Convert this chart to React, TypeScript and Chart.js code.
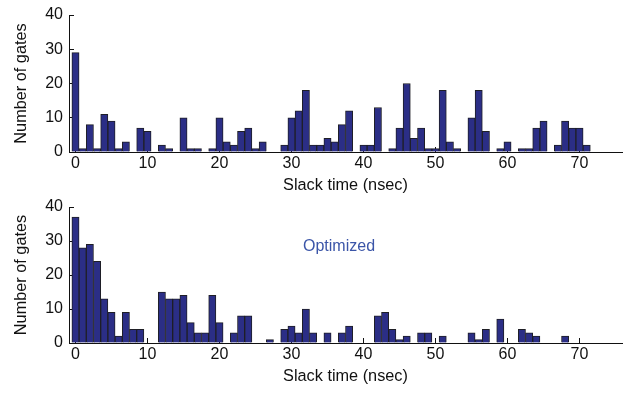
import React, { useEffect, useRef } from 'react';
import { Chart, registerables } from 'chart.js';

Chart.register(...registerables);

// ---- data ----
const slackTimes = [
  0, 1, 2, 3, 4, 5, 6, 7, 8, 9,
  10, 11, 12, 13, 14, 15, 16, 17, 18, 19,
  20, 21, 22, 23, 24, 25, 26, 27, 28, 29,
  30, 31, 32, 33, 34, 35, 36, 37, 38, 39,
  40, 41, 42, 43, 44, 45, 46, 47, 48, 49,
  50, 51, 52, 53, 54, 55, 56, 57, 58, 59,
  60, 61, 62, 63, 64, 65, 66, 67, 68, 69,
  70, 71,
];

const gatesOriginal = [
  29, 1, 8, 1, 11, 9, 1, 3, 0, 7,
  6, 0, 2, 1, 0, 10, 1, 1, 0, 1,
  10, 3, 2, 6, 7, 1, 3, 0, 0, 2,
  10, 12, 18, 2, 2, 4, 3, 8, 12, 0,
  2, 2, 13, 0, 1, 7, 20, 4, 7, 1,
  1, 18, 3, 1, 0, 10, 18, 6, 0, 1,
  3, 0, 1, 1, 7, 9, 0, 2, 9, 7,
  7, 2,
];

const gatesOptimized = [
  37, 28, 29, 24, 13, 9, 2, 9, 4, 4,
  0, 0, 15, 13, 13, 14, 6, 3, 3, 14,
  6, 0, 3, 8, 8, 0, 0, 1, 0, 4,
  5, 3, 10, 3, 0, 3, 0, 3, 5, 0,
  0, 0, 8, 9, 4, 1, 2, 0, 3, 3,
  0, 2, 0, 0, 0, 3, 1, 4, 0, 7,
  0, 0, 4, 3, 2, 0, 0, 0, 2, 0,
  0, 0,
];

const xTickValues = [0, 10, 20, 30, 40, 50, 60, 70];
const yTickValues = [0, 10, 20, 30, 40];
const xRange = [-0.9, 75.9];
const yRange = [0, 40];
const xTitle = 'Slack time (nsec)';
const yTitle = 'Number of gates';
const annotationText = 'Optimized';

const FONT = '"Liberation Sans", Arial, Helvetica, sans-serif';
const BAR_FILL = '#2b2e86';
const BAR_EDGE = '#1f1f26';
const INK = '#111111';

const annotationPlugin = {
  id: 'cornerNote',
  afterDatasetsDraw(chart: any, _args: any, opts: any) {
    if (!opts || !opts.text) return;
    const { ctx, scales } = chart;
    const px = scales.x.getPixelForValue(opts.x);
    const py = scales.y.getPixelForValue(opts.y);
    ctx.save();
    ctx.font = `16px ${FONT}`;
    ctx.fillStyle = opts.color;
    ctx.textAlign = 'center';
    ctx.textBaseline = 'middle';
    ctx.fillText(opts.text, px, py);
    ctx.restore();
  },
};

function makeConfig(values: number[], padTop: number, padBottom: number, note: any) {
  return {
    type: 'bar' as const,
    data: {
      datasets: [
        {
          data: slackTimes.map((t, i) => ({ x: t, y: values[i] })),
          backgroundColor: BAR_FILL,
          borderColor: BAR_EDGE,
          borderWidth: 1,
          barPercentage: 1,
          categoryPercentage: 1,
        },
      ],
    },
    plugins: [annotationPlugin],
    options: {
      animation: false,
      responsive: false,
      devicePixelRatio: 1,
      layout: { padding: { top: padTop, bottom: padBottom, left: 0, right: 2 } },
      plugins: {
        legend: { display: false },
        tooltip: { enabled: false },
        cornerNote: note,
      },
      scales: {
        x: {
          type: 'linear',
          min: xRange[0],
          max: xRange[1],
          offset: false,
          afterBuildTicks: (s: any) => {
            s.ticks = xTickValues.map((v) => ({ value: v }));
          },
          afterFit: (s: any) => {
            s.height = 43;
            s.paddingLeft = 0;
            s.paddingRight = 0;
          },
          ticks: {
            font: { family: FONT, size: 16 },
            color: INK,
            padding: 7,
            maxRotation: 0,
            autoSkip: false,
          },
          grid: {
            drawOnChartArea: false,
            drawTicks: true,
            tickLength: -5,
            color: INK,
            offset: false,
          },
          border: { display: true, color: INK, width: 1 },
          title: {
            display: true,
            text: xTitle,
            font: { family: FONT, size: 16.3 },
            color: INK,
            padding: { top: 0, bottom: 0 },
          },
        },
        y: {
          type: 'linear',
          min: yRange[0],
          max: yRange[1],
          afterBuildTicks: (s: any) => {
            s.ticks = yTickValues.map((v) => ({ value: v }));
          },
          afterFit: (s: any) => {
            s.width = 69;
            s.paddingTop = 0;
            s.paddingBottom = 0;
          },
          ticks: {
            font: { family: FONT, size: 16 },
            color: INK,
            padding: 11,
          },
          grid: {
            drawOnChartArea: false,
            drawTicks: true,
            tickLength: -5,
            color: INK,
          },
          border: { display: true, color: INK, width: 1 },
          title: {
            display: true,
            text: yTitle,
            font: { family: FONT, size: 16.3 },
            color: INK,
            padding: { top: 12, bottom: 0 },
          },
        },
      },
    },
  };
}

export default function App() {
  const topRef = useRef<HTMLCanvasElement | null>(null);
  const bottomRef = useRef<HTMLCanvasElement | null>(null);

  useEffect(() => {
    const charts: Chart[] = [];
    if (topRef.current) {
      charts.push(new Chart(topRef.current, makeConfig(gatesOriginal, 15, 0, { text: '' }) as any));
    }
    if (bottomRef.current) {
      charts.push(
        new Chart(
          bottomRef.current,
          makeConfig(gatesOptimized, 12, 7, {
            text: annotationText,
            x: 36.6,
            y: 28.4,
            color: '#3b55a8',
          }) as any
        )
      );
    }
    return () => charts.forEach((c) => c.destroy());
  }, []);

  return (
    <div
      style={{
        position: 'fixed',
        left: 0,
        top: 0,
        width: 624,
        height: 393,
        background: '#ffffff',
        overflow: 'hidden',
      }}
    >
      <canvas
        ref={topRef}
        width={624}
        height={195}
        style={{ position: 'absolute', left: 0, top: 0, width: 624, height: 195 }}
      />
      <canvas
        ref={bottomRef}
        width={624}
        height={198}
        style={{ position: 'absolute', left: 0, top: 195, width: 624, height: 198 }}
      />
    </div>
  );
}
